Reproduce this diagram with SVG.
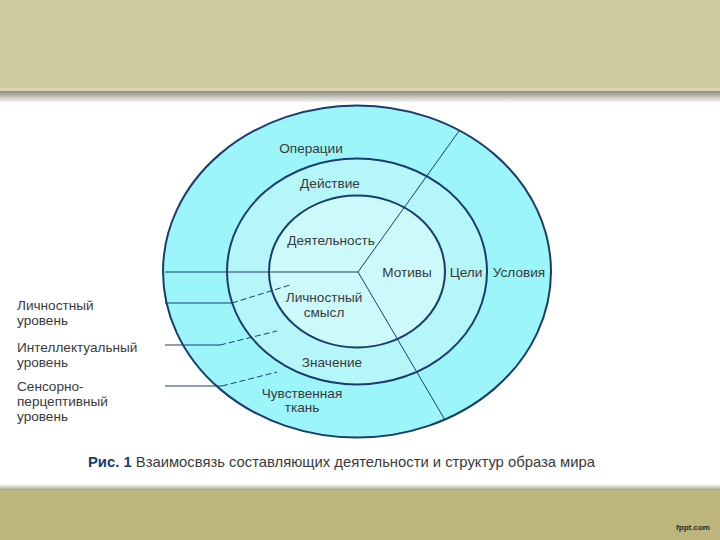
<svg xmlns="http://www.w3.org/2000/svg" width="720" height="540" viewBox="0 0 720 540">
<defs>
<linearGradient id="hshadow" x1="0" y1="0" x2="0" y2="1">
<stop offset="0" stop-color="#8f8a7a"/>
<stop offset="1" stop-color="#ffffff"/>
</linearGradient>
<linearGradient id="fshadow" x1="0" y1="0" x2="0" y2="1">
<stop offset="0" stop-color="#ffffff"/>
<stop offset="1" stop-color="#a8a48a"/>
</linearGradient>
</defs>
<style>
.ring{stroke:#1b3d6e;stroke-width:2}
.ln{stroke:#1b3d6e;stroke-width:1;fill:none}
.dash{stroke:#1b3d6e;stroke-width:1;fill:none;stroke-dasharray:6 3}
text{font-family:"Liberation Sans",Arial,sans-serif;font-size:13.6px;fill:#3a3a3a}
.c{text-anchor:middle}
</style>
<rect x="0" y="0" width="720" height="540" fill="#ffffff"/>
<rect x="0" y="0" width="720" height="90" fill="#cfcaa0"/>
<rect x="0" y="88" width="720" height="3" fill="#d9d5ae"/>
<rect x="0" y="91" width="720" height="12" fill="url(#hshadow)"/>
<rect x="0" y="484" width="720" height="6" fill="url(#fshadow)"/>
<rect x="0" y="490" width="720" height="50" fill="#bdb57e"/>
<text x="693" y="530" class="c" style="font-size:8px;font-weight:bold;fill:#2a2a1a">fppt.com</text>

<g id="outer"><ellipse cx="357" cy="271.5" rx="194" ry="166" fill="#9cf5f8" class="ring"/></g>
<g id="middle"><ellipse cx="357" cy="271.5" rx="130" ry="113" fill="#b5f6f8" class="ring"/></g>
<g id="inner"><ellipse cx="357" cy="271.5" rx="88" ry="76" fill="#ccfafa" class="ring"/></g>

<g id="connectors">
<line class="ln" x1="165" y1="272" x2="358" y2="272"/>
<line class="ln" x1="358" y1="272" x2="459" y2="131"/>
<line class="ln" x1="358" y1="272" x2="445" y2="420"/>
<line class="ln" x1="165" y1="303" x2="232" y2="303"/>
<line class="dash" x1="232" y1="303" x2="290" y2="285"/>
<line class="ln" x1="165" y1="345" x2="220" y2="345"/>
<line class="dash" x1="220" y1="345" x2="277" y2="331"/>
<line class="ln" x1="165" y1="386" x2="222" y2="386"/>
<line class="dash" x1="222" y1="386" x2="277" y2="372"/>
</g>

<g id="labels">
<text x="311" y="153" class="c">Операции</text>
<text x="330" y="188" class="c">Действие</text>
<text x="331" y="245" class="c">Деятельность</text>
<text x="407" y="277" class="c">Мотивы</text>
<text x="466" y="277" class="c">Цели</text>
<text x="519" y="277" class="c">Условия</text>
<text x="324" y="302" class="c">Личностный</text>
<text x="324" y="317" class="c">смысл</text>
<text x="332" y="367" class="c">Значение</text>
<text x="302" y="398" class="c">Чувственная</text>
<text x="302" y="412" class="c">ткань</text>
</g>

<g id="levels">
<text x="17" y="310">Личностный</text>
<text x="17" y="325">уровень</text>
<text x="17" y="352">Интеллектуальный</text>
<text x="17" y="367">уровень</text>
<text x="17" y="391">Сенсорно-</text>
<text x="17" y="406">перцептивный</text>
<text x="17" y="421">уровень</text>
</g>

<text x="88" y="467" style="font-size:14.8px"><tspan style="font-weight:bold;fill:#1b3d6e">Рис. 1</tspan> Взаимосвязь составляющих деятельности и структур образа мира</text>
</svg>
